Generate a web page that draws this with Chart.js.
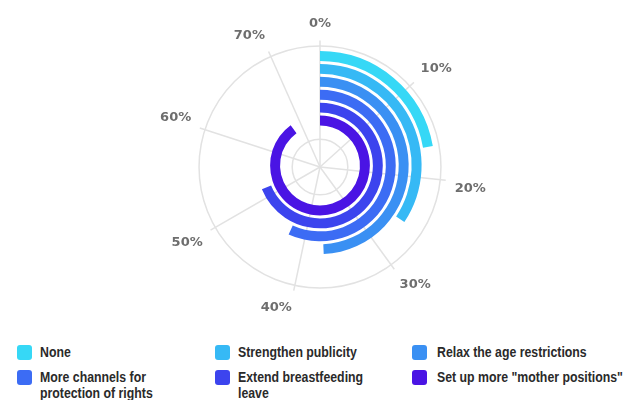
<!DOCTYPE html>
<html>
<head>
<meta charset="utf-8">
<script src="https://cdn.jsdelivr.net/npm/chart.js@4.4.0/dist/chart.umd.min.js"></script>
<style>
    body { margin: 0; background: #fff; }
    #wrap { position: relative; width: 628px; height: 400px; overflow: hidden; }
    .chartBox { position: absolute; left: 0; top: 0; width: 628px; height: 330px; }
    #legend { font: bold 15px "Liberation Sans", Arial, sans-serif; color: #2a2a2a; }
    .item { position: absolute; line-height: 16px; }
    .box { position: absolute; width: 15px; height: 15px; border-radius: 3px; }
    .txt { position: absolute; transform: scaleX(0.82); transform-origin: 0 0; }
</style>
</head>
<body>
<div id="wrap">
    <div class="chartBox"><canvas id="axisChart"></canvas></div>
    <div class="chartBox"><canvas id="barChart"></canvas></div>
    <div id="legend"></div>
</div>
<script>
// answers, outer ring first
let categories = ['None', 'Strengthen publicity', 'Relax the age restrictions',
    'More channels for protection of rights', 'Extend breastfeeding leave', 'Set up more "mother positions"'];
let values = [16.7, 25.8, 37.0, 42.6, 51.6, 67.5];
let colors = ['#36d8f6', '#36b9f5', '#3a90f3', '#3c6cf4', '#3c44ee', '#4a14e4'];
// angle axis: full turn = 75%
let fullTurn = 75;
let angleLabels = ['0%', '', '10%', '', '20%', '', '30%', '', '40%', '', '50%', '', '60%', '', '70%'];

let pad = { left: 20, right: 8, top: 14, bottom: 13 };

// axis: circle, spokes and % labels from a radial scale
new Chart(document.getElementById('axisChart'), {
    type: 'radar',
    data: { labels: angleLabels, datasets: [] },
    options: {
        responsive: true,
        maintainAspectRatio: false,
        animation: false,
        layout: { padding: pad },
        plugins: { legend: { display: false }, tooltip: { enabled: false } },
        scales: {
            r: {
                min: 0,
                max: 104.5,
                afterBuildTicks: axis => {
                    axis.ticks = [{ value: 0 }, { value: 23 }, { value: 100 }];
                },
                ticks: { display: false },
                grid: { circular: true, color: '#e2e2e2', lineWidth: 1.5 },
                angleLines: {
                    color: ctx => ctx.index % 2 == 0 ? '#e2e2e2' : 'rgba(0,0,0,0)',
                    lineWidth: 1.5
                },
                pointLabels: {
                    padding: 9,
                    color: '#6e6e6e',
                    font: { family: 'DejaVu Sans', size: 13, weight: 'bold' }
                }
            }
        }
    }
});

// bars: one ring per answer, thin transparent rings between them
let datasets = [];
values.forEach((v, i) => {
    if (i > 0) {
        datasets.push({ data: [fullTurn], backgroundColor: ['rgba(0,0,0,0)'], borderWidth: 0, weight: 0.3 });
    }
    datasets.push({
        label: categories[i],
        data: [v, fullTurn - v],
        backgroundColor: [colors[i], 'rgba(0,0,0,0)'],
        borderWidth: 0,
        weight: 1
    });
});

new Chart(document.getElementById('barChart'), {
    type: 'doughnut',
    data: { labels: ['value', 'rest'], datasets: datasets },
    options: {
        responsive: true,
        maintainAspectRatio: false,
        animation: false,
        radius: 114.5,
        cutout: '34.9%',
        layout: { padding: pad },
        plugins: { legend: { display: false }, tooltip: { enabled: false } }
    }
});

// legend
let legend = document.getElementById('legend');
let colX = [17, 215, 412];
let rowY = [345, 370];
let widths = [150, 165, 400];
categories.forEach((c, i) => {
    let col = i % 3, row = Math.floor(i / 3);
    let item = document.createElement('div');
    item.className = 'item';
    item.style.left = colX[col] + 'px';
    item.style.top = rowY[row] + 'px';
    item.innerHTML = '<div class="box" style="background:' + colors[i] + '"></div>' +
        '<div class="txt" style="left:' + (col == 2 ? 25 : 23) + 'px;top:-1px;width:' + widths[col] + 'px">' + c.replace(/"/g, '&quot;') + '</div>';
    legend.appendChild(item);
});
</script>
</body>
</html>
